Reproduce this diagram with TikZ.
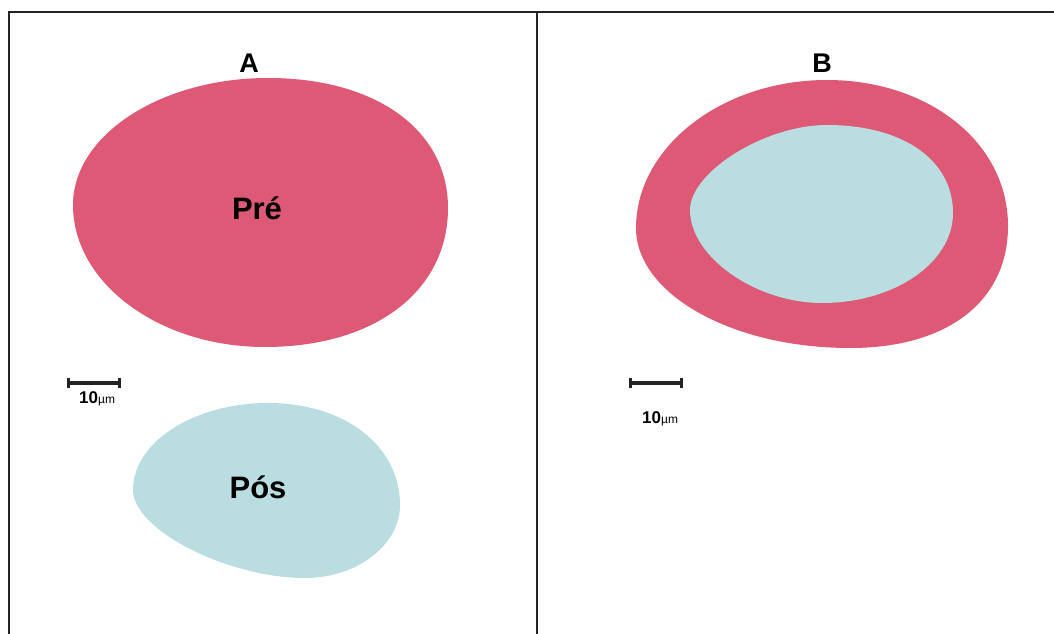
\documentclass[tikz,border=0pt]{standalone}
\usepackage{fontspec}
\setmainfont{Liberation Sans}
\usetikzlibrary{calc}
\definecolor{pre}{RGB}{221,89,118}
\definecolor{pos}{RGB}{185,221,224}
\definecolor{frame}{RGB}{35,35,35}
\tikzset{
  framelinestyle/.style={draw=frame,line width=2.2pt},
  blobpre/.style={fill=pre,draw=none},
  blobpos/.style={fill=pos,draw=none},
  paneltitle/.style={font=\bfseries\fontsize{27}{27}\selectfont,inner sep=0pt,anchor=base},
  bloblabel/.style={font=\bfseries\fontsize{31}{31}\selectfont,inner sep=0pt,anchor=base},
  scalebar/.style={draw=frame,line width=3.4pt},
  scaletick/.style={draw=frame,line width=3pt},
  scalelabel/.style={inner sep=0pt,anchor=base west}
}
\newcommand{\umlabel}{{\bfseries\fontsize{17}{17}\selectfont 10}{\fontsize{12}{12}\selectfont µm}}
\begin{document}
\begin{tikzpicture}[x=1pt,y=-1pt]
\useasboundingbox (0,0) rectangle (1054,634);
% frame
\draw[framelinestyle] (9,634) -- (9,12) -- (1054,12);
\draw[framelinestyle] (537,12) -- (537,634);
% Panel A: Pre
\fill[blobpre] (268,78) .. controls (376,78) and (448,130) .. (448,208)
  .. controls (448,291) and (375,347) .. (265,347)
  .. controls (159,347) and (73,283) .. (73,205)
  .. controls (73,135) and (161,78) .. (268,78) -- cycle;
% Panel A: Pos
\fill[blobpos] (268,403) .. controls (345,403) and (400,446) .. (400,505)
  .. controls (400,545) and (357,578) .. (305,578)
  .. controls (228,578) and (133,530) .. (133,490)
  .. controls (133,442) and (194,403) .. (268,403) -- cycle;
% Panel B: outer Pre
\fill[blobpre] (827,80) .. controls (928,80) and (1008,142) .. (1008,226)
  .. controls (1008,301) and (948,348) .. (850,348)
  .. controls (732,348) and (636,294) .. (636,228)
  .. controls (636,147) and (722,80) .. (827,80) -- cycle;
% Panel B: inner Pos
\fill[blobpos] (827,125) .. controls (903,125) and (953,160) .. (953,213)
  .. controls (953,263) and (894,303) .. (822,303)
  .. controls (756,303) and (690,257) .. (690,210)
  .. controls (690,172) and (765,125) .. (827,125) -- cycle;
% titles and labels
\node[paneltitle] (tA) at (249,72) {A};
\node[paneltitle] (tB) at (822,72) {B};
\node[bloblabel] (lpre) at (257,219) {Pré};
\node[bloblabel] (lpos) at (258,498) {Pós};
% scale bar A
\coordinate (a1) at (68,383);
\coordinate (a2) at (119,383);
\draw[scalebar] (a1) -- (a2);
\draw[scaletick] ($(a1)+(0,-5)$) -- ($(a1)+(0,5)$);
\draw[scaletick] ($(a2)+(0,-5)$) -- ($(a2)+(0,5)$);
\node[scalelabel] (sA) at (79,403) {\umlabel};
% scale bar B
\coordinate (b1) at (630,383);
\coordinate (b2) at (681,383);
\draw[scalebar] (b1) -- (b2);
\draw[scaletick] ($(b1)+(0,-5)$) -- ($(b1)+(0,5)$);
\draw[scaletick] ($(b2)+(0,-5)$) -- ($(b2)+(0,5)$);
\node[scalelabel] (sB) at (642,423) {\umlabel};
\end{tikzpicture}
\end{document}
